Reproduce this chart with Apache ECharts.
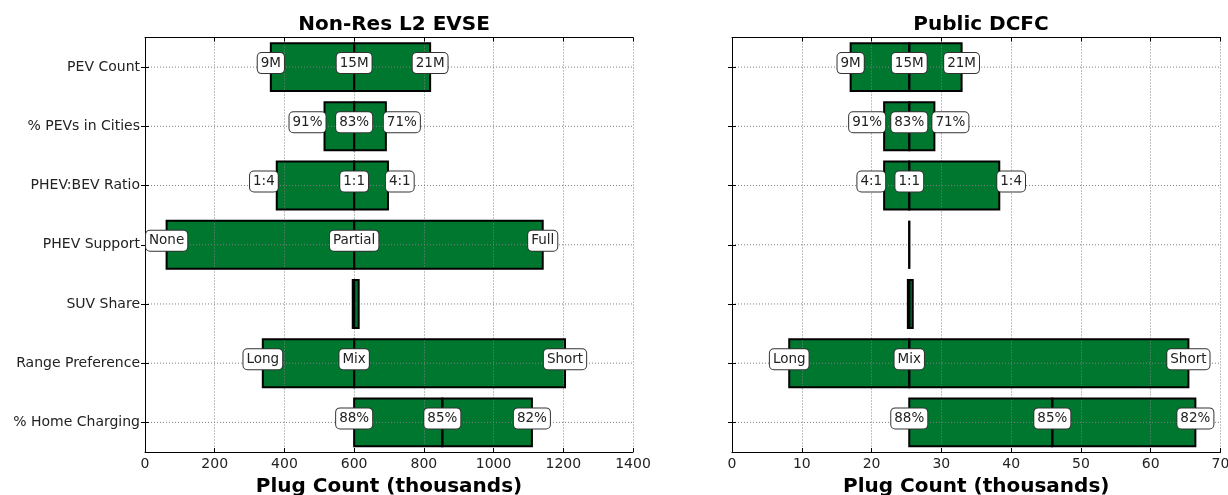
<!DOCTYPE html>
<html>
<head>
<meta charset="utf-8">
<script src="https://cdn.jsdelivr.net/npm/echarts@6/dist/echarts.min.js"></script>
<style>
  html, body { margin: 0; padding: 0; background: #fff; }
  #chart { width: 1228px; height: 495px; }
</style>
</head>
<body>
<div id="chart"></div>
<script>
// ---- data ----
const categories = ['PEV Count', '% PEVs in Cities', 'PHEV:BEV Ratio', 'PHEV Support', 'SUV Share', 'Range Preference', '% Home Charging'];

// Non-Res L2 EVSE (thousands)
const l2Low  = [361, 515, 378, 62, 596, 338, 600];
const l2Mid  = [600, 600, 600, 600, 600, 600, 853];
const l2High = [818, 691, 697, 1141, 613, 1205, 1110];
const l2LowLabels  = ['9M', '91%', '1:4', 'None', '', 'Long', '88%'];
const l2MidLabels  = ['15M', '83%', '1:1', 'Partial', '', 'Mix', '85%'];
const l2HighLabels = ['21M', '71%', '4:1', 'Full', '', 'Short', '82%'];

// Public DCFC (thousands)
const dcLow  = [17.0, 21.8, 21.8, 25.4, 25.2, 8.2, 25.4];
const dcMid  = [25.4, 25.4, 25.4, 25.4, 25.4, 25.4, 45.9];
const dcHigh = [32.9, 29.0, 38.3, 25.4, 25.9, 65.4, 66.4];
const dcLowLabels  = ['9M', '91%', '4:1', '', '', 'Long', '88%'];
const dcMidLabels  = ['15M', '83%', '1:1', '', '', 'Mix', '85%'];
const dcHighLabels = ['21M', '71%', '1:4', '', '', 'Short', '82%'];

const xTicksL2 = { min: 0, max: 1400, interval: 200 };
const xTicksDc = { min: 0, max: 70, interval: 10 };

// ---- styles ----
const FONT = '"DejaVu Sans", sans-serif';
const GREEN = '#00772f';
const gridDot = { color: '#808080', width: 1, type: [1, 2] };
const BAR_FRAC = 0.81;
// rows whose end labels sit just outside the bar ends instead of centred on them
const outwardLabelRows = ['% PEVs in Cities', 'PHEV:BEV Ratio'];

function rows(lo, mid, hi) {
  return categories.map((c, i) => [i, lo[i], mid[i], hi[i]]);
}

function barRects(api, i, fillStyle) {
  const lo = api.value(1), mid = api.value(2), hi = api.value(3);
  const band = api.size([0, 1])[1];
  const h = band * BAR_FRAC;
  const pLo = api.coord([lo, i]);
  const pMid = api.coord([mid, i]);
  const pHi = api.coord([hi, i]);
  const cy = pMid[1];
  return [
    { type: 'rect', shape: { x: Math.min(pLo[0], pMid[0]), y: cy - h / 2, width: Math.abs(pMid[0] - pLo[0]), height: h }, style: fillStyle },
    { type: 'rect', shape: { x: Math.min(pMid[0], pHi[0]), y: cy - h / 2, width: Math.abs(pHi[0] - pMid[0]), height: h }, style: fillStyle }
  ];
}

// green fills + horizontal dotted grid line through the row
function fillRender(params, api) {
  const i = api.value(0);
  const cy = api.coord([api.value(2), i])[1];
  const cs = params.coordSys;
  const children = barRects(api, i, { fill: GREEN });
  children.push({ type: 'line', shape: { x1: cs.x, y1: cy, x2: cs.x + cs.width, y2: cy }, style: { stroke: gridDot.color, lineWidth: 1, lineDash: [1, 2] }, z2: 10 });
  return { type: 'group', children };
}

// black bar outlines + boxed text labels (drawn above grid lines)
function outlineLabelRender(lowL, midL, highL) {
  return function (params, api) {
    const i = api.value(0);
    const children = barRects(api, i, { fill: null, stroke: '#000', lineWidth: 2 });
    const vals = [api.value(1), api.value(2), api.value(3)];
    const texts = [lowL[i], midL[i], highL[i]];
    const outward = outwardLabelRows.indexOf(categories[i]) >= 0;
    vals.forEach((v, k) => {
      if (!texts[k]) return;
      const p = api.coord([v, i]);
      let align = 'center', x = p[0];
      if (outward && k === 0) { align = 'right'; x = p[0] + 1; }
      if (outward && k === 2) { align = 'left'; x = p[0] - 2; }
      children.push({
        type: 'text',
        x: x, y: p[1] - 4,
        z2: 20,
        style: {
          text: texts[k],
          font: '13.5px ' + FONT,
          lineHeight: 16,
          fill: '#222',
          align: align,
          verticalAlign: 'middle',
          backgroundColor: '#fff',
          borderColor: '#333',
          borderWidth: 1,
          borderRadius: 4,
          padding: [2, 3, 2, 3]
        }
      });
    });
    return { type: 'group', children };
  };
}

const grids = [
  { left: 145, right: 595, top: 37.5, bottom: 43, outerBoundsMode: 'none', containLabel: false },
  { left: 732, right: 7.5, top: 37.5, bottom: 43, outerBoundsMode: 'none', containLabel: false }
];

function xAxes(gi, t) {
  return [
    {
      type: 'value', gridIndex: gi, position: 'bottom', min: t.min, max: t.max, interval: t.interval, z: 5,
      name: 'Plug Count (thousands)', nameLocation: 'middle', nameGap: 25,
      nameTextStyle: { fontFamily: FONT, fontSize: 20, fontWeight: 'bold', color: '#000' },
      axisLine: { show: true, lineStyle: { color: '#000', width: 1 } },
      axisTick: { show: true, inside: true, length: 4, lineStyle: { color: '#000' } },
      axisLabel: { fontFamily: FONT, fontSize: 14, color: '#222', margin: 5, formatter: v => String(v) },
      splitLine: { show: true, lineStyle: gridDot }
    },
    {
      type: 'value', gridIndex: gi, position: 'top', min: t.min, max: t.max, interval: t.interval, z: 5,
      axisLine: { show: true, lineStyle: { color: '#000', width: 1 } },
      axisTick: { show: true, inside: true, length: 4, lineStyle: { color: '#000' } },
      axisLabel: { show: false },
      splitLine: { show: false }
    }
  ];
}

function yAxes(gi, showLabels) {
  return [
    {
      type: 'category', gridIndex: gi, data: categories, inverse: true, position: 'left', z: 5,
      axisLine: { show: true, lineStyle: { color: '#000', width: 1 } },
      axisTick: { show: true, inside: true, length: 4, alignWithLabel: true, lineStyle: { color: '#000' } },
      axisLabel: { show: showLabels, fontFamily: FONT, fontSize: 14, color: '#222', margin: 5 },
      splitLine: { show: false }
    },
    {
      type: 'category', gridIndex: gi, data: categories, inverse: true, position: 'right', z: 5,
      axisLine: { show: true, lineStyle: { color: '#000', width: 1 } },
      axisTick: { show: true, inside: true, length: 4, alignWithLabel: true, lineStyle: { color: '#000' } },
      axisLabel: { show: false },
      splitLine: { show: false }
    }
  ];
}

const option = {
  animation: false,
  backgroundColor: '#fff',
  title: [
    { text: 'Non-Res L2 EVSE', left: 389, top: 10, textAlign: 'center', textStyle: { fontFamily: FONT, fontSize: 20, fontWeight: 'bold', color: '#000' } },
    { text: 'Public DCFC', left: 976, top: 10, textAlign: 'center', textStyle: { fontFamily: FONT, fontSize: 20, fontWeight: 'bold', color: '#000' } }
  ],
  grid: grids,
  xAxis: [...xAxes(0, xTicksL2), ...xAxes(1, xTicksDc)],
  yAxis: [...yAxes(0, true), ...yAxes(1, false)],
  series: [
    { type: 'custom', xAxisIndex: 0, yAxisIndex: 0, z: 2, renderItem: fillRender, encode: { x: [1, 2, 3], y: 0 }, data: rows(l2Low, l2Mid, l2High) },
    { type: 'custom', xAxisIndex: 0, yAxisIndex: 0, z: 10, renderItem: outlineLabelRender(l2LowLabels, l2MidLabels, l2HighLabels), encode: { x: [1, 2, 3], y: 0 }, data: rows(l2Low, l2Mid, l2High), clip: false },
    { type: 'custom', xAxisIndex: 2, yAxisIndex: 2, z: 2, renderItem: fillRender, encode: { x: [1, 2, 3], y: 0 }, data: rows(dcLow, dcMid, dcHigh) },
    { type: 'custom', xAxisIndex: 2, yAxisIndex: 2, z: 10, renderItem: outlineLabelRender(dcLowLabels, dcMidLabels, dcHighLabels), encode: { x: [1, 2, 3], y: 0 }, data: rows(dcLow, dcMid, dcHigh), clip: false }
  ]
};

const chart = echarts.init(document.getElementById('chart'), null, { renderer: 'canvas' });
chart.setOption(option);
</script>
</body>
</html>
